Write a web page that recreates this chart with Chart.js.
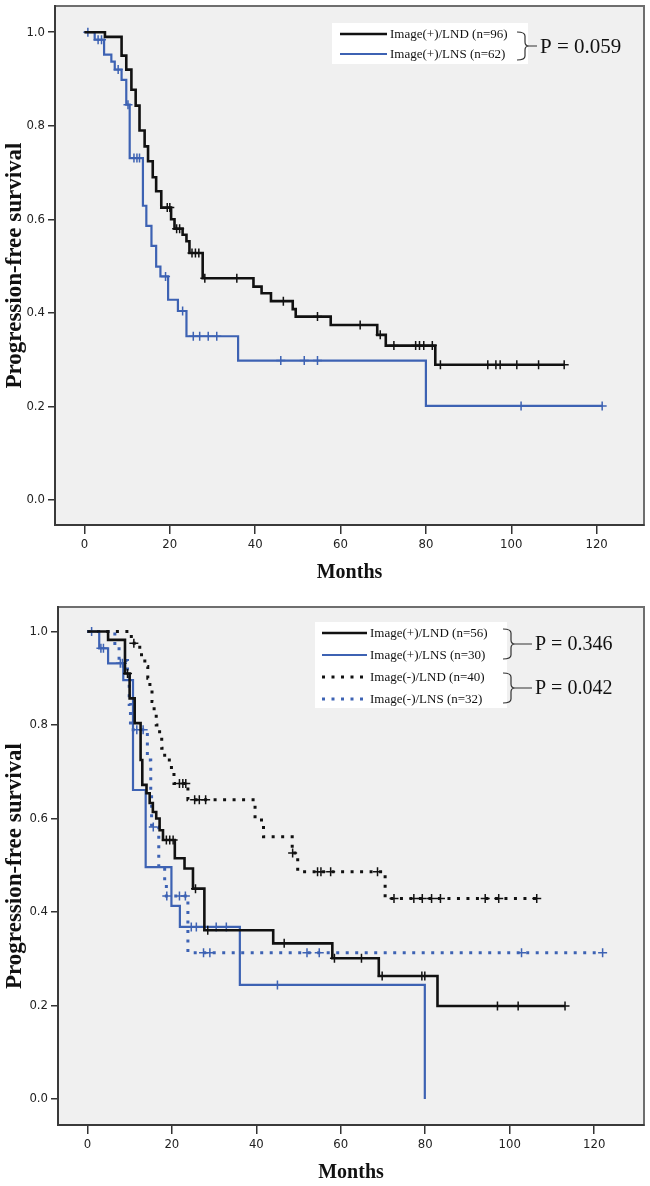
<!DOCTYPE html>
<html>
<head>
<meta charset="utf-8">
<title>Progression-free survival</title>
<script src="https://cdn.jsdelivr.net/npm/chart.js@4.4.1/dist/chart.umd.min.js"></script>
<style>
  html, body { margin: 0; padding: 0; background: #fff; }
  .panel { position: relative; width: 650px; height: 593px; }
  canvas { display: block; }
</style>
</head>
<body>
<div class="panel"><canvas id="chartTop" width="650" height="593"></canvas></div>
<div class="panel"><canvas id="chartBottom" width="650" height="593"></canvas></div>
<script>
// Kaplan-Meier curves, values

const xTicks = [0, 20, 40, 60, 80, 100, 120];
const yTicks = [0, 0.2, 0.4, 0.6, 0.8, 1.0];

// --- top panel: Image(+) patients ---
const topLndLabel = 'Image(+)/LND (n=96)';
const topLndMonths = [0, 4.8, 8.7, 9.8, 11, 12, 12.9, 14.1, 14.9, 16, 16.8, 18, 20.3, 21.1, 23, 23.9, 24.6, 27.7, 39.6, 41.5, 43.7, 48.8, 49.5, 57.7, 68.6, 70.6, 82.2, 112.4];
const topLndSurv   = [1, 0.99, 0.95, 0.92, 0.877, 0.843, 0.79, 0.756, 0.724, 0.69, 0.66, 0.625, 0.60, 0.58, 0.567, 0.553, 0.528, 0.474, 0.456, 0.442, 0.425, 0.408, 0.392, 0.374, 0.353, 0.33, 0.289, 0.289];
const topLndCensored = [19.4, 20, 21.6, 22.3, 25.2, 26, 26.8, 28.2, 35.7, 46.6, 54.6, 64.6, 69.3, 72.5, 77.6, 78.5, 79.5, 81.5, 83.4, 94.5, 96.4, 97.4, 101.3, 106.4, 112.4];

const topLnsLabel = 'Image(+)/LNS (n=62)';
const topLnsMonths = [0, 2.4, 4.6, 6.3, 7.1, 8.7, 9.8, 10.6, 13.7, 14.5, 15.7, 16.8, 17.8, 19.6, 21.9, 23.9, 36, 80, 121.3];
const topLnsSurv   = [1, 0.984, 0.952, 0.937, 0.92, 0.898, 0.845, 0.731, 0.629, 0.586, 0.543, 0.499, 0.478, 0.428, 0.404, 0.35, 0.298, 0.201, 0.201];
const topLnsCensored = [0.8, 3.2, 4, 7.9, 10.2, 11.6, 12.3, 12.9, 19, 23, 25.5, 27, 29, 31, 46, 51.5, 54.6, 102.3, 121.3];

const topPValue = 'P = 0.059';

// --- bottom panel: Image(+) and Image(-) patients ---
const posLndLabel = 'Image(+)/LND (n=56)';
const posLndMonths = [0, 4.9, 8.9, 10, 11.2, 12.6, 13, 14, 14.75, 15.5, 16.3, 17.1, 17.9, 20.7, 23, 25, 27.7, 44, 58, 69, 82.9, 113.1];
const posLndSurv   = [1, 0.982, 0.91, 0.857, 0.804, 0.725, 0.672, 0.654, 0.633, 0.614, 0.60, 0.575, 0.554, 0.515, 0.493, 0.45, 0.361, 0.333, 0.301, 0.263, 0.199, 0.199];
const posLndCensored = [9.5, 18.7, 19.5, 20.3, 25.6, 28.5, 46.6, 58.5, 64.9, 69.8, 79.2, 79.9, 97.1, 102, 113.1];

const posLnsLabel = 'Image(+)/LNS (n=30)';
const posLnsMonths = [0, 2.8, 4.9, 8.5, 10.8, 13.8, 19.9, 21.9, 36.1, 79.9];
const posLnsSurv   = [1, 0.964, 0.932, 0.896, 0.661, 0.496, 0.413, 0.368, 0.244, 0];
const posLnsCensored = [1, 3.2, 3.8, 7.8, 8.3, 24.6, 25.8, 30.5, 32.9, 45];

const negLndLabel = 'Image(-)/LND (n=40)';
const negLndMonths = [0, 10.4, 12.4, 13.6, 14.3, 14.8, 15.3, 15.8, 16.3, 17.1, 17.6, 18.3, 19.9, 20.5, 23.8, 39.7, 41.7, 48.5, 49.8, 70.5, 106.4];
const negLndSurv   = [1, 0.975, 0.95, 0.925, 0.90, 0.875, 0.85, 0.825, 0.80, 0.775, 0.75, 0.725, 0.70, 0.675, 0.64, 0.597, 0.561, 0.526, 0.486, 0.429, 0.429];
const negLndCensored = [11, 21.8, 22.6, 23.3, 25.4, 26.5, 28, 48.6, 54.5, 55.3, 57.6, 68.7, 72.6, 77.3, 79.3, 81.5, 83.6, 94.2, 97.4, 106.4];

const negLnsLabel = 'Image(-)/LNS (n=32)';
const negLnsMonths = [0, 6.5, 7.5, 9.5, 9.9, 10.2, 14.2, 15, 15.2, 16.9, 18.3, 18.7, 23.8, 122];
const negLnsSurv   = [1, 0.969, 0.938, 0.906, 0.844, 0.79, 0.725, 0.66, 0.582, 0.498, 0.465, 0.434, 0.313, 0.313];
const negLnsCensored = [11.7, 13.2, 15.6, 18.8, 21.8, 23.2, 27.5, 29, 52, 54.9, 102.8, 122];

const posPValue = 'P = 0.346';
const negPValue = 'P = 0.042';

const BLACK = '#111111';
const BLUE  = '#3d62b3';
const SERIF  = '"Liberation Serif", "Times New Roman", serif';
const NARROW = '"Liberation Sans Narrow", "DejaVu Sans Condensed", "Arial Narrow", sans-serif';

// censored cases sit on the curve level at that month
function censorPoints(months, surv, censored) {
  return censored.map(c => {
    let level = surv[0];
    for (let i = 0; i < months.length; i++) {
      if (months[i] <= c) level = surv[i];
    }
    return { x: c, y: level };
  });
}

function kmDatasets(label, months, surv, censored, color, width, dash) {
  return [
    {
      label: label,
      data: months.map((m, i) => ({ x: m, y: surv[i] })),
      borderColor: color,
      borderWidth: width,
      borderDash: dash,
      borderCapStyle: 'butt',
      borderJoinStyle: 'miter',
      stepped: true,
      pointRadius: 0,
      fill: false
    },
    {
      label: label + ' censored',
      data: censorPoints(months, surv, censored),
      showLine: false,
      borderColor: color,
      pointStyle: 'cross',
      pointRadius: 4.5,
      pointBorderWidth: 1.5,
      pointBorderColor: color
    }
  ];
}

// grey plot area with a frame, like the SPSS output
const plotFrame = {
  id: 'plotFrame',
  beforeDraw(chart) {
    const { ctx, chartArea: a } = chart;
    ctx.save();
    ctx.fillStyle = '#f0f0f0';
    ctx.fillRect(a.left, a.top, a.right - a.left, a.bottom - a.top);
    ctx.strokeStyle = '#6e6e6e';
    ctx.lineWidth = 2;
    ctx.strokeRect(a.left, a.top, a.right - a.left, a.bottom - a.top);
    ctx.restore();
  }
};

function drawBrace(ctx, x, top, bottom, tipTo) {
  const mid = (top + bottom) / 2, w = 8, r = 4;
  ctx.beginPath();
  ctx.moveTo(x, top);
  ctx.quadraticCurveTo(x + w, top, x + w, top + r);
  ctx.lineTo(x + w, mid - r);
  ctx.quadraticCurveTo(x + w, mid, x + w + r, mid);
  ctx.lineTo(tipTo, mid);
  ctx.moveTo(x + w + r, mid);
  ctx.quadraticCurveTo(x + w, mid, x + w, mid + r);
  ctx.lineTo(x + w, bottom - r);
  ctx.quadraticCurveTo(x + w, bottom, x, bottom);
  ctx.stroke();
}

// legend box in the top right corner, plus the brackets with P values
const kmLegend = {
  id: 'kmLegend',
  afterDraw(chart, args, opts) {
    const ctx = chart.ctx;
    ctx.save();
    ctx.fillStyle = '#ffffff';
    ctx.fillRect(opts.box[0], opts.box[1], opts.box[2], opts.box[3]);
    opts.rows.forEach((dsIndex, i) => {
      const ds = chart.data.datasets[dsIndex];
      const y = opts.rowY[i];
      ctx.strokeStyle = ds.borderColor;
      ctx.lineWidth = ds.borderWidth;
      ctx.setLineDash(ds.borderDash || []);
      ctx.beginPath();
      ctx.moveTo(opts.lineX[0], y);
      ctx.lineTo(opts.lineX[1], y);
      ctx.stroke();
      ctx.setLineDash([]);
      ctx.fillStyle = '#111';
      ctx.font = '13px ' + SERIF;
      ctx.textBaseline = 'middle';
      ctx.textAlign = 'left';
      ctx.fillText(ds.label, opts.textX, y + 1);
    });
    ctx.strokeStyle = '#333';
    ctx.lineWidth = 1.2;
    opts.pValues.forEach(p => {
      drawBrace(ctx, opts.braceX, p.top, p.bottom, opts.pX - 3);
      ctx.fillStyle = '#111';
      ctx.font = opts.pSize + 'px ' + SERIF;
      ctx.textBaseline = 'middle';
      ctx.fillText(p.text, opts.pX, (p.top + p.bottom) / 2 + 1);
    });
    ctx.restore();
  }
};

function kmOptions(cfg) {
  return {
    responsive: false,
    animation: false,
    layout: { padding: cfg.padding },
    plugins: {
      legend: { display: false },
      tooltip: { enabled: false },
      kmLegend: cfg.legend
    },
    scales: {
      x: {
        type: 'linear',
        min: cfg.xMin,
        max: cfg.xMax,
        afterBuildTicks: s => { s.ticks = xTicks.map(v => ({ value: v })); },
        afterFit: s => { s.height = cfg.xAxisHeight; s.paddingLeft = 0; s.paddingRight = 0; },
        grid: { drawOnChartArea: false, drawTicks: true, tickLength: 9, color: '#333', lineWidth: 1.5 },
        border: { display: true, color: '#3a3a3a', width: 2 },
        ticks: {
          padding: 3, color: '#222', maxRotation: 0,
          font: { family: NARROW, size: 13 },
          callback: v => String(v)
        },
        title: {
          display: true, text: 'Months', color: '#111',
          font: { family: SERIF, size: 20, weight: 'bold' },
          padding: { top: 0, bottom: cfg.xTitlePad }
        }
      },
      y: {
        type: 'linear',
        min: cfg.yMin,
        max: cfg.yMax,
        afterBuildTicks: s => { s.ticks = yTicks.map(v => ({ value: v })); },
        afterFit: s => { s.width = cfg.yAxisWidth; s.paddingTop = 0; s.paddingBottom = 0; },
        grid: { drawOnChartArea: false, drawTicks: true, tickLength: 7, color: '#333', lineWidth: 1.5 },
        border: { display: true, color: '#3a3a3a', width: 2 },
        ticks: {
          padding: 3, color: '#222',
          font: { family: NARROW, size: 13 },
          callback: v => Number(v).toFixed(1)
        },
        title: {
          display: true, text: 'Progression-free survival', color: '#111',
          font: { family: SERIF, size: 23, weight: 'bold' },
          padding: { top: 1, bottom: 0 }
        }
      }
    }
  };
}

new Chart(document.getElementById('chartTop'), {
  type: 'line',
  data: {
    datasets: [
      ...kmDatasets(topLndLabel, topLndMonths, topLndSurv, topLndCensored, BLACK, 2.6, []),
      ...kmDatasets(topLnsLabel, topLnsMonths, topLnsSurv, topLnsCensored, BLUE, 2.2, [])
    ]
  },
  options: kmOptions({
    padding: { top: 6, right: 4, left: 0, bottom: 0 },
    xMin: -6.9, xMax: 131.1, yMin: -0.0535, yMax: 1.056,
    xAxisHeight: 68, xTitlePad: 8, yAxisWidth: 55,
    legend: {
      box: [332, 23, 196, 41],
      rows: [0, 2],
      rowY: [34, 54],
      lineX: [340, 387],
      textX: 390,
      braceX: 517,
      pX: 540,
      pSize: 21,
      pValues: [{ text: topPValue, top: 32, bottom: 60 }]
    }
  }),
  plugins: [plotFrame, kmLegend]
});

new Chart(document.getElementById('chartBottom'), {
  type: 'line',
  data: {
    datasets: [
      ...kmDatasets(posLndLabel, posLndMonths, posLndSurv, posLndCensored, BLACK, 2.6, []),
      ...kmDatasets(posLnsLabel, posLnsMonths, posLnsSurv, posLnsCensored, BLUE, 2.2, []),
      ...kmDatasets(negLndLabel, negLndMonths, negLndSurv, negLndCensored, BLACK, 3, [3, 6.5]),
      ...kmDatasets(negLnsLabel, negLnsMonths, negLnsSurv, negLnsCensored, BLUE, 3, [3, 6.5])
    ]
  },
  options: kmOptions({
    padding: { top: 14, right: 4, left: 0, bottom: 0 },
    xMin: -6.96, xMax: 131.8, yMin: -0.0556, yMax: 1.0524,
    xAxisHeight: 61, xTitlePad: 1, yAxisWidth: 58,
    legend: {
      box: [315, 29, 192, 86],
      rows: [0, 2, 4, 6],
      rowY: [40, 62, 84, 106],
      lineX: [322, 367],
      textX: 370,
      braceX: 503,
      pX: 535,
      pSize: 20,
      pValues: [
        { text: posPValue, top: 36, bottom: 66 },
        { text: negPValue, top: 80, bottom: 110 }
      ]
    }
  }),
  plugins: [plotFrame, kmLegend]
});
</script>
</body>
</html>
